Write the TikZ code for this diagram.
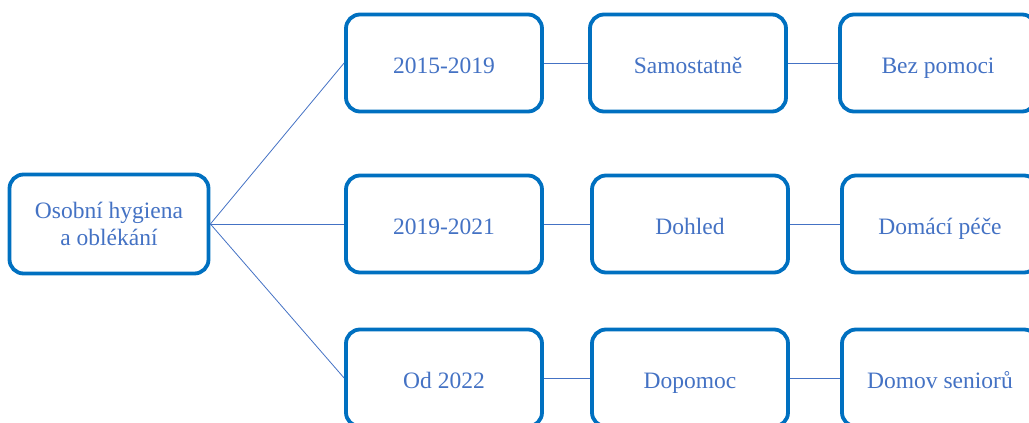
\documentclass[tikz,border=0pt]{standalone}
\usepackage{fontspec}
\setmainfont{Liberation Serif}
\definecolor{boxblue}{HTML}{0070C0}
\definecolor{txtblue}{HTML}{4472C4}
\begin{document}
\begin{tikzpicture}[x=1pt,y=-1pt,
  box/.style={draw=boxblue, line width=3.8pt, rounded corners=14pt, fill=white,
    minimum width=196pt, minimum height=97pt, text=txtblue, align=center,
    font=\fontsize{23.5}{27}\selectfont, inner sep=2pt},
  one/.style={box, text height=24pt, text depth=4pt},
  link/.style={draw=txtblue, line width=0.8pt}]
\useasboundingbox (0,0) rectangle (1029,423);
\clip (0,0) rectangle (1029,423);
\node[box, minimum width=199pt, minimum height=99pt, text height=46pt, text depth=3pt] (l) at (109,224) {Osobní hygiena\\a oblékání};
\node[one] (a1) at (444,63) {2015-2019};
\node[one] (a2) at (688,63) {Samostatně};
\node[one] (a3) at (938,63) {Bez pomoci};
\node[one] (b1) at (444,224) {2019-2021};
\node[one] (b2) at (690,224) {Dohled};
\node[one] (b3) at (940,224) {Domácí péče};
\node[one] (c1) at (444,378) {Od 2022};
\node[one] (c2) at (690,378) {Dopomoc};
\node[one] (c3) at (940,378) {Domov seniorů};
\draw[link] (l.east) -- (a1.west);
\draw[link] (l.east) -- (b1.west);
\draw[link] (l.east) -- (c1.west);
\draw[link] (a1.east) -- (a2.west);
\draw[link] (a2.east) -- (a3.west);
\draw[link] (b1.east) -- (b2.west);
\draw[link] (b2.east) -- (b3.west);
\draw[link] (c1.east) -- (c2.west);
\draw[link] (c2.east) -- (c3.west);
\end{tikzpicture}
\end{document}
